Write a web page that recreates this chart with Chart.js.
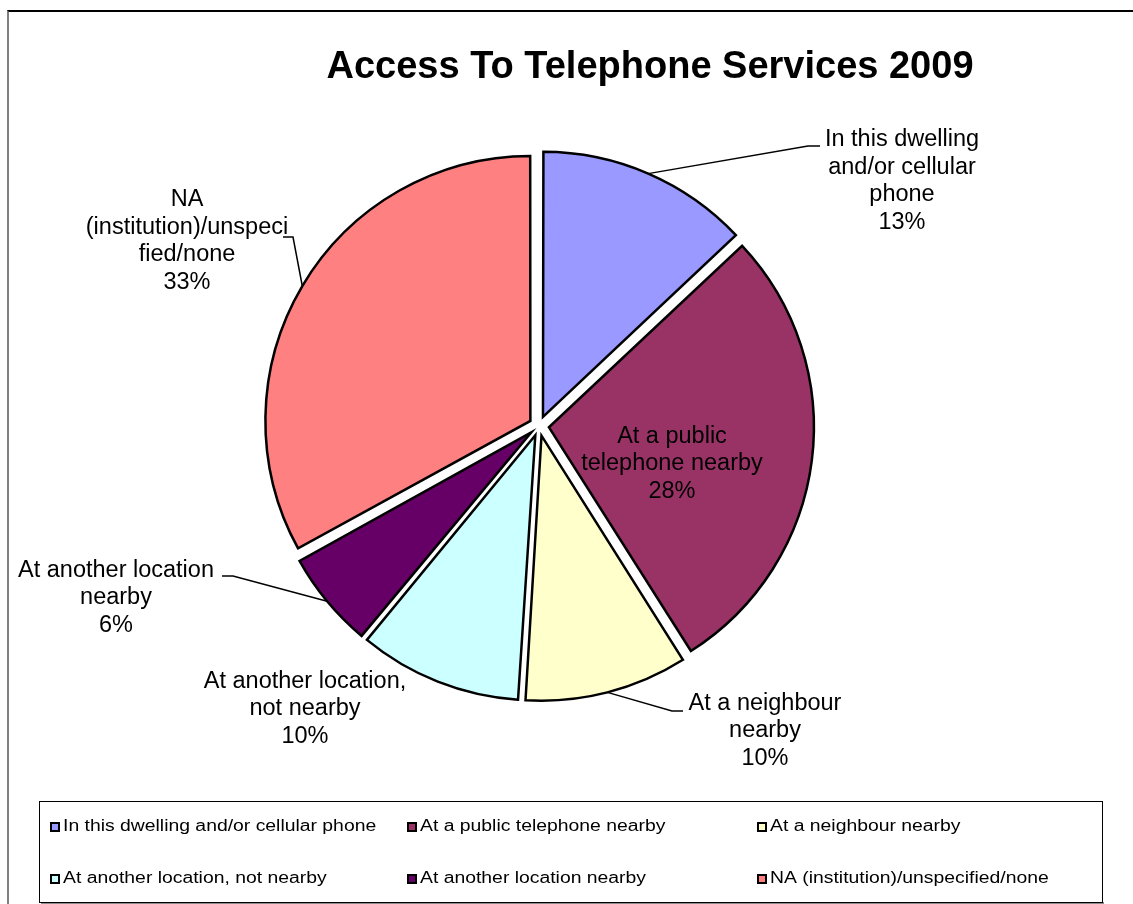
<!DOCTYPE html>
<html>
<head>
<meta charset="utf-8">
<title>Access To Telephone Services 2009</title>
<script src="https://cdn.jsdelivr.net/npm/chart.js@4.4.1/dist/chart.umd.min.js"></script>
<style>
  html, body { margin: 0; padding: 0; background: #ffffff; }
  #wrap { position: relative; width: 1133px; height: 904px; overflow: hidden; }
  #frame {
    position: absolute; left: 7px; top: 10px; width: 1140px; height: 910px;
    border-top: 2px solid #000000; border-left: 2px solid #7f7f7f; box-sizing: border-box;
  }
  #chart { position: absolute; left: 0; top: 0; }
</style>
</head>
<body>
<div id="wrap">
  <div id="frame"></div>
  <canvas id="chart" width="1133" height="904"></canvas>
</div>
<script>
// ---- data ----
const chartTitle = 'Access To Telephone Services 2009';
const categories = [
  'In this dwelling and/or cellular phone',
  'At a public telephone nearby',
  'At a neighbour nearby',
  'At another location, not nearby',
  'At another location nearby',
  'NA (institution)/unspecified/none'
];
const shares = [13, 28, 10, 10, 6, 33];
// wrapped category text used for the slice labels
const sliceLabelLines = [
  ['In this dwelling', 'and/or cellular', 'phone'],
  ['At a public', 'telephone nearby'],
  ['At a neighbour', 'nearby'],
  ['At another location,', 'not nearby'],
  ['At another location', 'nearby'],
  ['NA', '(institution)/unspeci', 'fied/none']
];

// ---- styling ----
const sliceColors = ['#9999FF', '#993366', '#FFFFCC', '#CCFFFF', '#660066', '#FF8080'];
const FONT = "'Liberation Sans', Arial, Helvetica, sans-serif";
const RADIUS = 265;      // pie radius in px
const EXPLODE = 10;      // distance every slice is pulled away from the centre
const LABEL_STRETCH = 1.0;
const LEGEND_STRETCH = 1.21;

// label block centre and leader elbow, relative to the pie centre
const labelPlacement = [
  { dx: 363, dy: -245, elbow: [269, -280], tail: 281 },
  { dx: 133, dy: 38 },
  { dx: 226, dy: 305, elbow: [133, 285], tail: 144 },
  { dx: -234, dy: 283 },
  { dx: -423, dy: 172, elbow: [-306, 150], tail: -317 },
  { dx: -352, dy: -185, elbow: [-246, -189], tail: -256 }
];

function stretchedText(ctx, text, x, y, sx) {
  ctx.save();
  ctx.translate(x, y);
  ctx.scale(sx, 1);
  ctx.fillText(text, 0, 0);
  ctx.restore();
}

// Chart.js moves an arc by offset/4 and also grows its radius by a small
// amount that depends on the slice angle; undo the growth so all slices
// keep the same radius and are pulled out by the same distance.
const evenExplode = {
  id: 'evenExplode',
  beforeDatasetsDraw(chart) {
    const meta = chart.getDatasetMeta(0);
    meta.data.forEach(arc => {
      const fix = 1 - Math.sin(Math.min(Math.PI, arc.circumference || 0));
      arc.outerRadius = RADIUS - EXPLODE * fix;
    });
  }
};

const sliceLabels = {
  id: 'sliceLabels',
  afterDatasetsDraw(chart) {
    const ctx = chart.ctx;
    const meta = chart.getDatasetMeta(0);
    ctx.save();
    ctx.font = '23.5px ' + FONT;
    ctx.fillStyle = '#000000';
    ctx.strokeStyle = '#000000';
    ctx.lineWidth = 1.5;
    ctx.textAlign = 'center';
    ctx.textBaseline = 'middle';
    meta.data.forEach((arc, i) => {
      const cx = arc.x, cy = arc.y;
      const mid = (arc.startAngle + arc.endAngle) / 2;
      const p = labelPlacement[i];
      if (p.elbow) {
        const sx = cx + Math.cos(mid) * (EXPLODE + RADIUS);
        const sy = cy + Math.sin(mid) * (EXPLODE + RADIUS);
        const ex = cx + p.elbow[0], ey = cy + p.elbow[1];
        ctx.beginPath();
        ctx.moveTo(sx, sy);
        ctx.lineTo(ex, ey);
        ctx.lineTo(cx + p.tail, ey);
        ctx.stroke();
      }
      const lines = sliceLabelLines[i].concat([shares[i] + '%']);
      const lh = 27.6;
      const top = cy + p.dy - (lines.length - 1) * lh / 2;
      lines.forEach((t, k) => stretchedText(ctx, t, cx + p.dx, top + k * lh, LABEL_STRETCH));
    });
    ctx.restore();
  },
  afterDraw(chart) {
    const ctx = chart.ctx;
    ctx.save();
    // title
    ctx.font = 'bold 38px ' + FONT;
    ctx.fillStyle = '#000000';
    ctx.textAlign = 'center';
    ctx.textBaseline = 'middle';
    ctx.fillText(chartTitle, 650, 68);

    // legend box
    ctx.fillStyle = '#8c8c8c';
    ctx.fillRect(41, 902, 1063, 2);
    ctx.fillStyle = '#ffffff';
    ctx.fillRect(39, 801, 1064, 101);
    ctx.strokeStyle = '#000000';
    ctx.lineWidth = 1;
    ctx.strokeRect(39.5, 801.5, 1063, 101);

    const colX = [50, 407, 757];
    const rowY = [826.5, 878.5];
    ctx.font = '16px ' + FONT;
    ctx.textAlign = 'left';
    const ds = chart.data.datasets[0];
    chart.data.labels.forEach((lab, i) => {
      const x = colX[i % 3], y = rowY[Math.floor(i / 3)];
      ctx.fillStyle = ds.backgroundColor[i];
      ctx.fillRect(x, y - 4.5, 9, 9);
      ctx.strokeStyle = '#000000';
      ctx.lineWidth = 2;
      ctx.strokeRect(x + 1, y - 3.5, 8, 8);
      ctx.fillStyle = '#000000';
      stretchedText(ctx, lab, x + 13, y, LEGEND_STRETCH);
    });
    ctx.restore();
  }
};

new Chart(document.getElementById('chart'), {
  type: 'pie',
  data: {
    labels: categories,
    datasets: [{
      data: shares,
      backgroundColor: sliceColors,
      borderColor: '#000000',
      borderWidth: 2.5,
      borderJoinStyle: 'miter',
      offset: EXPLODE * 4,
      hoverOffset: 0
    }]
  },
  options: {
    responsive: false,
    animation: false,
    events: [],
    radius: RADIUS,
    layout: { padding: { left: 239, right: 294, top: 126, bottom: 178 } },
    plugins: {
      legend: { display: false },
      title: { display: false },
      tooltip: { enabled: false }
    }
  },
  plugins: [evenExplode, sliceLabels]
});
</script>
</body>
</html>
